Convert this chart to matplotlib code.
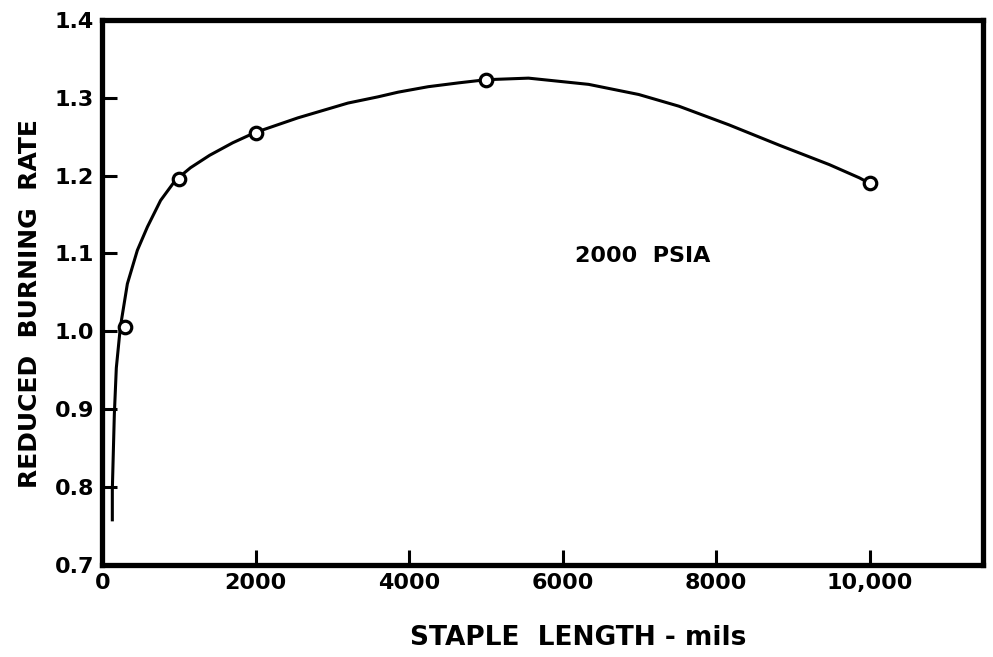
import matplotlib.pyplot as plt

# measured points (open circles)
staple_len = [300, 1000, 2000, 5000, 10000]
burn_rate = [1.005, 1.195, 1.255, 1.323, 1.19]

# hand-drawn curve
curve_x = [131, 131, 157, 183, 235, 327, 457, 588, 760, 954, 1150, 1400,
           1700, 1987, 2549, 3202, 3594, 3856, 4248, 4650, 5006, 5555,
           6339, 6992, 7515, 8169, 8822, 9476, 9868, 10000]
curve_y = [0.758, 0.797, 0.893, 0.953, 1.005, 1.061, 1.104, 1.134, 1.168,
           1.194, 1.210, 1.226, 1.242, 1.255, 1.274, 1.293, 1.301, 1.307,
           1.314, 1.319, 1.323, 1.325, 1.317, 1.304, 1.289, 1.265, 1.239,
           1.214, 1.197, 1.19]

xticks = [0, 2000, 4000, 6000, 8000, 10000]
xticklabels = ['0', '2000', '4000', '6000', '8000', '10,000']
yticks = [0.7, 0.8, 0.9, 1.0, 1.1, 1.2, 1.3, 1.4]
yticklabels = ['0.7', '0.8', '0.9', '1.0', '1.1', '1.2', '1.3', '1.4']

plt.rcParams['font.family'] = ['DejaVu Sans']
plt.rcParams['font.weight'] = 'bold'

fig = plt.figure(figsize=(9.93, 6.57), dpi=100)
ax = fig.add_axes([0.103, 0.140, 0.887, 0.830])

ax.plot(curve_x, curve_y, color='black', lw=2.2, zorder=2)
ax.plot(staple_len, burn_rate, 'o', ms=9, mfc='white', mec='black', mew=2.3, zorder=3)

ax.set_xlim(0, 11480)
ax.set_ylim(0.7, 1.4)
ax.set_xticks(xticks)
ax.set_xticklabels(xticklabels)
ax.set_yticks(yticks)
ax.set_yticklabels(yticklabels)
ax.tick_params(direction='in', length=11, width=2.2, labelsize=16, pad=6)

for s in ax.spines.values():
    s.set_linewidth(3.8)

ax.set_xlabel('STAPLE  LENGTH - mils', fontsize=19, fontweight='bold')
ax.xaxis.set_label_coords(0.54, -0.11)
ax.set_ylabel('REDUCED  BURNING  RATE', fontsize=18, fontweight='bold')
ax.yaxis.set_label_coords(-0.068, 0.48)

ax.text(7050, 1.097, '2000  PSIA', fontsize=16, fontweight='bold', ha='center', va='center')

fig.savefig('out.png', dpi=100)
